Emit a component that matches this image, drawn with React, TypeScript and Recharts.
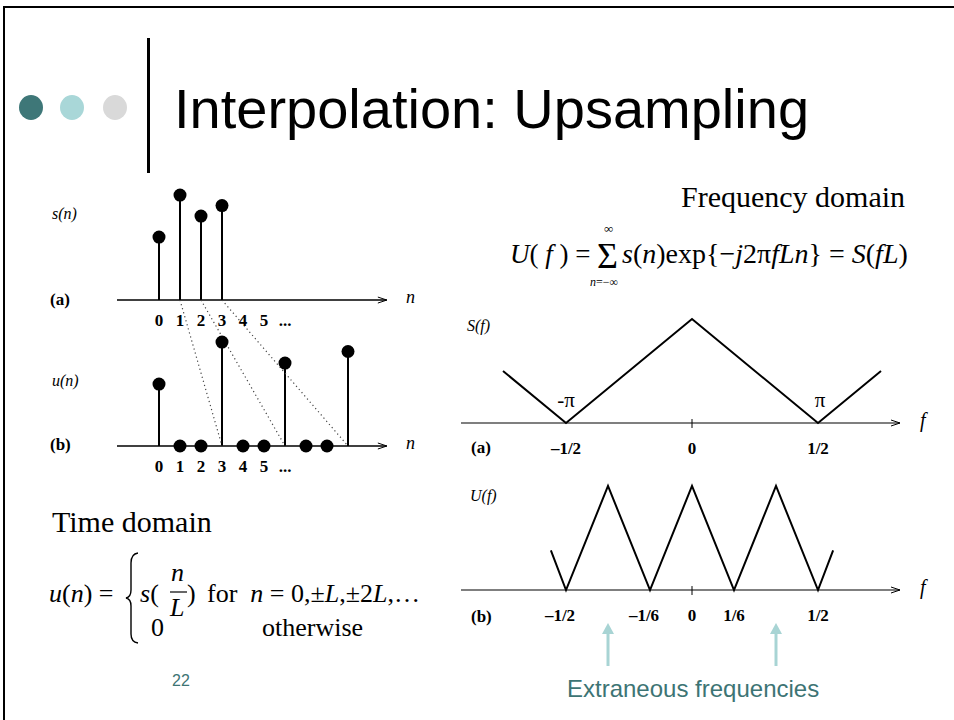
import React from "react";
import {
  ScatterChart,
  Scatter,
  LineChart,
  Line,
  XAxis,
  YAxis,
  ErrorBar,
  ReferenceLine,
  ReferenceDot,
} from "recharts";

// time domain, L = 3
const sN = [0, 1, 2, 3];
const sVal = [0.6, 1.0, 0.8, 0.9];
const uN = [0, 3, 6, 9];
const uVal = [0.59, 0.99, 0.79, 0.9];
const uZeroN = [1, 2, 4, 5, 7, 8];
const nTickPos = [0, 1, 2, 3, 4, 5, 6];
const nTickLabels = ["0", "1", "2", "3", "4", "5", "..."];
const mapFrom = [1, 2, 3];
const mapTo = [3, 6, 9];
const BASE_A = 1.39; // where panel (a) sits above panel (b)

// frequency domain
const sfF = [-0.75, -0.5, 0, 0.5, 0.75];
const sfVal = [0.5, 0, 1, 0, 0.5];
const sfTicks = [-0.5, 0, 0.5];
const sfTickLabels = ["–1/2", "0", "1/2"];
const ufF = [-0.56, -0.5, -1 / 3, -1 / 6, 0, 1 / 6, 1 / 3, 0.5, 0.56];
const ufVal = [0.38, 0, 1, 0, 1, 0, 1, 0, 0.38];
const ufTicks = [-0.5, -1 / 6, 0, 1 / 6, 0.5];
const ufTickLabels = ["–1/2", "–1/6", "0", "1/6", "1/2"];
const extraF = [-1 / 3, 1 / 3];

const serif = "'Liberation Serif', 'Times New Roman', serif";
const sans = "'Liberation Sans', Arial, sans-serif";
const teal = "#3d7474";
const lightTeal = "#a8d4d4";

const stemsA = sN.map((n, i) => ({ n, y: BASE_A + sVal[i], err: [sVal[i], 0] }));
const stemsB = uN.map((n, i) => ({ n, y: uVal[i], err: [uVal[i], 0] }));
const zerosB = uZeroN.map((n) => ({ n, y: 0 }));
const ticksA = nTickPos.map((n, i) => ({ n, y: BASE_A, t: nTickLabels[i] }));
const ticksB = nTickPos.map((n, i) => ({ n, y: 0, t: nTickLabels[i] }));
const sfData = sfF.map((f, i) => ({ f, v: sfVal[i] }));
const ufData = ufF.map((f, i) => ({ f, v: ufVal[i] }));

const Dot = (p: any) => <circle cx={p.cx} cy={p.cy} r={6.5} fill="#000" />;
const NoDot = () => <g />;
const TickText = (p: any) => (
  <text x={p.cx} y={p.cy + 26} textAnchor="middle" fontFamily={serif} fontWeight="bold" fontSize={17}>
    {p.payload.t}
  </text>
);
const Arrow = (p: any) => (
  <path
    d={`M${p.cx - 9},${p.cy - 3} L${p.cx},${p.cy} L${p.cx - 9},${p.cy + 3}`}
    fill="none"
    stroke="#000"
    strokeWidth={1}
  />
);
const UpArrow = (p: any) => (
  <g>
    <line x1={p.cx} y1={p.cy + 40} x2={p.cx} y2={p.cy + 76} stroke={lightTeal} strokeWidth={3} />
    <path d={`M${p.cx - 6},${p.cy + 44} L${p.cx},${p.cy + 33} L${p.cx + 6},${p.cy + 44} Z`} fill={lightTeal} />
  </g>
);

function Txt({ x, y, size, font = serif, children, style }: any) {
  return (
    <div
      style={{
        position: "absolute",
        left: x,
        top: y,
        fontFamily: font,
        fontSize: size,
        lineHeight: 1,
        whiteSpace: "nowrap",
        transform: "translateY(-50%)",
        ...style,
      }}
    >
      {children}
    </div>
  );
}

function TimeChart() {
  return (
    <div style={{ position: "absolute", left: 40, top: 170 }}>
      <ScatterChart width={400} height={330} margin={{ top: 13.5, right: 50, bottom: 12, left: 77 }}>
        <XAxis type="number" dataKey="n" domain={[-2, 11]} hide />
        <YAxis type="number" dataKey="y" domain={[-0.4, 2.5]} hide />
        {mapFrom.map((a, i) => (
          <Scatter
            key={"map" + i}
            data={[
              { n: a, y: BASE_A },
              { n: mapTo[i], y: 0 },
            ]}
            line={{ stroke: "#444", strokeWidth: 1.2, strokeDasharray: "1.2 3" }}
            shape={NoDot}
            isAnimationActive={false}
          />
        ))}
        <ReferenceLine segment={[{ x: -2, y: BASE_A }, { x: 10.85, y: BASE_A }]} stroke="#000" strokeWidth={1.5} ifOverflow="visible" />
        <ReferenceLine segment={[{ x: -2, y: 0 }, { x: 10.85, y: 0 }]} stroke="#000" strokeWidth={1.5} ifOverflow="visible" />
        <ReferenceDot x={10.85} y={BASE_A} shape={Arrow} ifOverflow="visible" />
        <ReferenceDot x={10.85} y={0} shape={Arrow} ifOverflow="visible" />
        <Scatter data={stemsA} shape={Dot} isAnimationActive={false}>
          <ErrorBar dataKey="err" direction="y" width={0} stroke="#000" strokeWidth={2} />
        </Scatter>
        <Scatter data={stemsB} shape={Dot} isAnimationActive={false}>
          <ErrorBar dataKey="err" direction="y" width={0} stroke="#000" strokeWidth={2} />
        </Scatter>
        <Scatter data={zerosB} shape={Dot} isAnimationActive={false} />
        <Scatter data={ticksA} shape={TickText} isAnimationActive={false} />
        <Scatter data={ticksB} shape={TickText} isAnimationActive={false} />
      </ScatterChart>
    </div>
  );
}

function FreqChart({ data, ticks, labels, top, height, mt, mb, negShift, children }: any) {
  const tick = (p: any) => {
    const i = ticks.indexOf(p.payload.value);
    const dx = p.payload.value < 0 ? negShift : 0;
    return (
      <text x={p.x + dx} y={p.y + 31} textAnchor="middle" fontFamily={serif} fontWeight="bold" fontSize={17}>
        {labels[i]}
      </text>
    );
  };
  return (
    <div style={{ position: "absolute", left: 440, top }}>
      <LineChart width={500} height={height} data={data} margin={{ top: mt, right: 40, bottom: mb, left: 21 }}>
        <XAxis
          type="number"
          dataKey="f"
          domain={[-0.9167, 0.8254]}
          ticks={ticks}
          interval={0}
          tickLine={false}
          tickSize={0}
          tickMargin={0}
          height={30}
          axisLine={{ stroke: "#000", strokeWidth: 1.2 }}
          tick={tick}
        />
        <YAxis type="number" domain={[0, 1.1]} hide />
        <ReferenceLine segment={[{ x: 0, y: -0.048 }, { x: 0, y: 0.038 }]} stroke="#000" strokeWidth={1} ifOverflow="visible" />
        <ReferenceDot x={0.8254} y={0} shape={Arrow} ifOverflow="visible" />
        <Line type="linear" dataKey="v" stroke="#000" strokeWidth={2} dot={false} isAnimationActive={false} />
        {children}
      </LineChart>
    </div>
  );
}

export default function App() {
  return (
    <div style={{ position: "absolute", left: 0, top: 0, width: 954, height: 720, background: "#fff", overflow: "hidden" }}>
      {/* slide frame */}
      <div style={{ position: "absolute", left: 3, top: 6, width: 960, height: 730, borderTop: "2px solid #000", borderLeft: "2px solid #000" }} />

      {/* title */}
      {["#3e7778", "#a9d7d8", "#d9d9d9"].map((c, i) => (
        <div
          key={c}
          style={{ position: "absolute", left: [31, 72, 115][i] - 12, top: 95, width: 24, height: 25, borderRadius: "50%", background: c }}
        />
      ))}
      <div style={{ position: "absolute", left: 147, top: 38, width: 3, height: 135, background: "#000" }} />
      <Txt x={174} y={109} size={56} font={sans}>Interpolation: Upsampling</Txt>

      {/* time domain plots */}
      <TimeChart />
      <Txt x={52} y={214} size={16} style={{ fontStyle: "italic" }}>s(n)</Txt>
      <Txt x={50} y={299} size={17} style={{ fontWeight: "bold" }}>(a)</Txt>
      <Txt x={406} y={297} size={18} style={{ fontStyle: "italic" }}>n</Txt>
      <Txt x={52} y={381} size={16} style={{ fontStyle: "italic" }}>u(n)</Txt>
      <Txt x={50} y={444} size={17} style={{ fontWeight: "bold" }}>(b)</Txt>
      <Txt x={406} y={443} size={18} style={{ fontStyle: "italic" }}>n</Txt>

      <Txt x={52} y={522} size={30}>Time domain</Txt>
      {/* u(n) definition */}
      <Txt x={49} y={594} size={26}>
        <i>u</i>(<i>n</i>) =
      </Txt>
      <svg style={{ position: "absolute", left: 0, top: 0 }} width={954} height={720}>
        <path
          d="M138 553 Q131 554 131 563 L131 590 Q131 597 126 598 Q131 599 131 606 L131 634 Q131 642 138 643"
          fill="none"
          stroke="#000"
          strokeWidth={1.4}
        />
        <line x1={170} y1={592} x2={187} y2={592} stroke="#000" strokeWidth={1.2} />
      </svg>
      <Txt x={140} y={594} size={26}>
        <i>s</i>(
      </Txt>
      <Txt x={171} y={573} size={26} style={{ fontStyle: "italic" }}>n</Txt>
      <Txt x={170} y={608} size={26} style={{ fontStyle: "italic" }}>L</Txt>
      <Txt x={187} y={594} size={26}>)</Txt>
      <Txt x={207} y={594} size={26}>
        for&nbsp; <i>n</i> = 0,±<i>L</i>,±2<i>L</i>,…
      </Txt>
      <Txt x={151} y={628} size={26}>0</Txt>
      <Txt x={262} y={628} size={26}>otherwise</Txt>
      <Txt x={172} y={681} size={16} font={sans} style={{ color: teal }}>22</Txt>

      {/* frequency domain */}
      <Txt x={681} y={197} size={30}>Frequency domain</Txt>
      <Txt x={510} y={254} size={27}>
        <i>U</i>( <i>f</i> ) =
      </Txt>
      <Txt x={597} y={256} size={36}>Σ</Txt>
      <Txt x={604} y={228} size={13}>∞</Txt>
      <Txt x={590} y={282} size={12}>
        <i>n</i>=−∞
      </Txt>
      <Txt x={622} y={254} size={28}>
        <i>s</i>(<i>n</i>)exp{"{"}−<i>j</i>2π<i>fLn</i>{"}"} = <i>S</i>(<i>fL</i>)
      </Txt>

      <FreqChart data={sfData} ticks={sfTicks} labels={sfTickLabels} top={290} height={180} mt={18.6} mb={17} negShift={0}>
        <ReferenceDot
          x={-0.5}
          y={0}
          ifOverflow="visible"
          shape={(p: any) => (
            <text x={p.cx} y={p.cy - 16} textAnchor="middle" fontFamily={serif} fontSize={21}>
              -π
            </text>
          )}
        />
        <ReferenceDot
          x={0.5}
          y={0}
          ifOverflow="visible"
          shape={(p: any) => (
            <text x={p.cx + 2} y={p.cy - 16} textAnchor="middle" fontFamily={serif} fontSize={21}>
              π
            </text>
          )}
        />
      </FreqChart>
      <Txt x={467} y={326} size={16} style={{ fontStyle: "italic" }}>S(f)</Txt>
      <Txt x={471} y={447} size={17} style={{ fontWeight: "bold" }}>(a)</Txt>
      <Txt x={920} y={420} size={20} style={{ fontStyle: "italic" }}>f</Txt>

      <FreqChart data={ufData} ticks={ufTicks} labels={ufTickLabels} top={460} height={240} mt={15.6} mb={80} negShift={-6}>
        {extraF.map((f) => (
          <ReferenceDot key={f} x={f} y={0} ifOverflow="visible" shape={UpArrow} />
        ))}
      </FreqChart>
      <Txt x={470} y={496} size={16} style={{ fontStyle: "italic" }}>U(f)</Txt>
      <Txt x={471} y={616} size={17} style={{ fontWeight: "bold" }}>(b)</Txt>
      <Txt x={920} y={587} size={20} style={{ fontStyle: "italic" }}>f</Txt>
      <Txt x={567} y={689} size={24} font={sans} style={{ color: teal }}>Extraneous frequencies</Txt>
    </div>
  );
}
